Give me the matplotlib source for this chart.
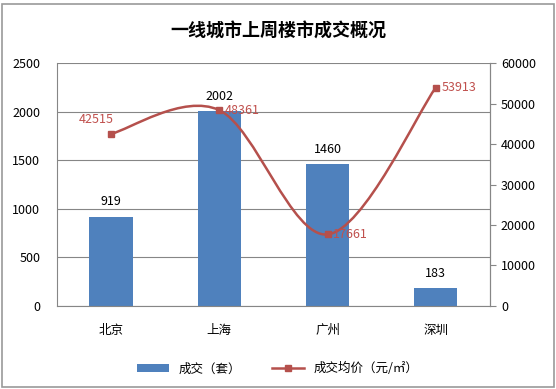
import numpy as np
import matplotlib.pyplot as plt
from matplotlib.path import Path
from matplotlib.patches import PathPatch, Rectangle

plt.rcParams['font.family'] = ['Noto Sans CJK SC', 'DejaVu Sans']

cities = ['北京', '上海', '广州', '深圳']
deals = [919, 2002, 1460, 183]
prices = [42515, 48361, 17661, 53913]

bar_color = '#4F81BD'
line_color = '#B5504C'
grid_color = '#868686'

fig = plt.figure(figsize=(5.56, 3.89), dpi=100)
fig.patches.append(Rectangle((0.004, 0.004), 0.992, 0.985, transform=fig.transFigure,
                             fill=False, edgecolor='#9A9A9A', linewidth=1.2))

ax = fig.add_axes([0.1025, 0.2134, 0.7785, 0.6246])
x = np.arange(len(cities))
ax.bar(x, deals, width=0.4, color=bar_color, zorder=2, label='成交（套）')
ax.set_xlim(-0.5, len(cities) - 0.5)
ax.set_ylim(0, 2500)
ax.set_yticks(range(0, 2501, 500))
ax.set_xticks(x)
ax.set_xticklabels(cities)
ax.grid(axis='y', color=grid_color, linewidth=0.8, zorder=0)
ax.tick_params(axis='y', length=0, labelsize=9, pad=12)
ax.tick_params(axis='x', length=0, labelsize=9, pad=13)
for s in ax.spines.values():
    s.set_color(grid_color)
ax.spines['top'].set_visible(False)
for xi, v in zip(x, deals):
    ax.annotate(str(v), (xi, v), xytext=(0, 6), textcoords='offset points',
                ha='center', va='bottom', fontsize=9)

ax2 = ax.twinx()
ax2.set_ylim(0, 60000)
ax2.set_yticks(range(0, 60001, 10000))
ax2.tick_params(axis='y', length=4, color=grid_color, labelsize=9, pad=4)
for s in ax2.spines.values():
    s.set_visible(False)
ax2.spines['right'].set_visible(True)
ax2.spines['right'].set_color(grid_color)

# smoothed line like Excel (Catmull-Rom as cubic Bezier)
px = np.array(x, dtype=float)
py = np.array(prices, dtype=float)
verts = [(px[0], py[0])]
codes = [Path.MOVETO]
n = len(px)
for i in range(n - 1):
    p0 = (px[max(i - 1, 0)], py[max(i - 1, 0)])
    p1 = (px[i], py[i])
    p2 = (px[i + 1], py[i + 1])
    p3 = (px[min(i + 2, n - 1)], py[min(i + 2, n - 1)])
    c1 = (p1[0] + (p2[0] - p0[0]) / 6, p1[1] + (p2[1] - p0[1]) / 6)
    c2 = (p2[0] - (p3[0] - p1[0]) / 6, p2[1] - (p3[1] - p1[1]) / 6)
    verts += [c1, c2, p2]
    codes += [Path.CURVE4] * 3
ax2.add_patch(PathPatch(Path(verts, codes), facecolor='none', edgecolor=line_color,
                        linewidth=1.8, zorder=3))
ax2.plot(px, py, linestyle='none', marker='s', markersize=5, color=line_color, zorder=4)
line_handle = plt.Line2D([], [], color=line_color, marker='s', markersize=5,
                         linewidth=1.8, label='成交均价（元/㎡）')

offsets = [(-11, 10), (4, 0), (4, 0), (4, 0)]
aligns = ['center', 'left', 'left', 'left']
for xi, v, off, ha in zip(px, prices, offsets, aligns):
    ax2.annotate(str(v), (xi, v), xytext=off, textcoords='offset points',
                 ha=ha, va='center', fontsize=9, color='#C0504D')

fig.text(0.5, 0.92, '一线城市上周楼市成交概况', ha='center', va='center',
         fontsize=13, fontweight='bold')

bar_handle = ax.patches[0]
fig.legend([bar_handle, line_handle], ['成交（套）', '成交均价（元/㎡）'],
           loc='center', bbox_to_anchor=(0.5, 0.052), ncol=2, frameon=False,
           fontsize=9, handlelength=2.5, columnspacing=2.5)

fig.savefig('out.png', dpi=100)
